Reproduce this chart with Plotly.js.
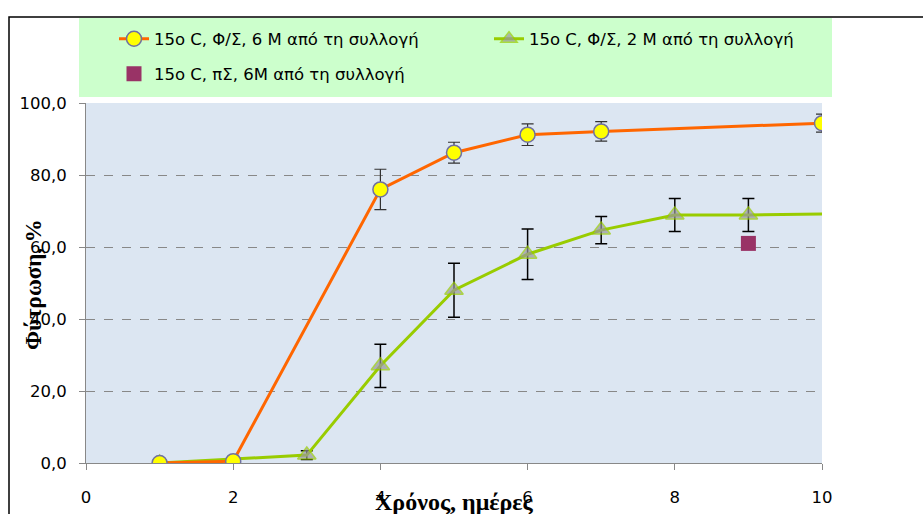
<!DOCTYPE html>
<html>
<head>
<meta charset="utf-8">
<script src="https://cdn.plot.ly/plotly-3.0.1.min.js"></script>
<style>html,body{margin:0;padding:0;background:#fff;}#chart{width:923px;height:514px;}</style>
</head>
<body>
<div id="chart"></div>
<script>
// Data
var seriesNames = ["15ο C, Φ/Σ, 6 Μ από τη συλλογή", "15ο C, Φ/Σ, 2 Μ από τη συλλογή", "15ο C, πΣ, 6Μ από τη συλλογή"];
var daysA = [1, 2, 4, 5, 6, 7, 10];
var germA = [0, 0.5, 76.0, 86.2, 91.2, 92.1, 94.4];
var errA  = [0, 0, 5.6, 2.9, 3.0, 2.7, 2.5];
var daysB = [1, 3, 4, 5, 6, 7, 8, 9, 10];
var germB = [0, 2.2, 27.0, 48.0, 58.0, 64.7, 68.9, 68.9, 69.2];
var errB  = [0, 1.2, 6.0, 7.5, 7.0, 3.8, 4.6, 4.6, 0];
var markB = [16, 16, 16, 16, 16, 16, 16, 16, 0];
var daysC = [9];
var germC = [61.0];
var xTicks = [0, 2, 4, 6, 8, 10];
var yTicks = [0, 20, 40, 60, 80, 100];
var yTickText = ["0,0", "20,0", "40,0", "60,0", "80,0", "100,0"];
var xTitle = "Χρόνος, ημέρες";
var yTitle = "Φύτρωση, %";

var tickFont = {family: "DejaVu Sans, sans-serif", size: 16.5, color: "#000"};
var legFont = {family: "DejaVu Sans, sans-serif", size: 16.5, color: "#000"};

function px2x(p) { return (p - 86) / 736; }
function px2y(p) { return (463 - p) / 360; }

function legendAt(xpx, ypx) {
  return {orientation: "h", x: px2x(xpx), xanchor: "left", y: px2y(ypx), yanchor: "middle",
          bgcolor: "rgba(0,0,0,0)", borderwidth: 0, font: legFont};
}

var traces = [
  {
    x: daysB, y: germB, name: seriesNames[1], type: "scatter", mode: "lines+markers",
    legend: "legend2",
    line: {color: "#99cc00", width: 3},
    marker: {symbol: "triangle-up", size: markB, color: "#999999", line: {color: "#99cc00", width: 1.5}},
    error_y: {type: "data", array: errB, visible: true, color: "#000", thickness: 1.5, width: 6}
  },
  {
    x: daysA, y: germA, name: seriesNames[0], type: "scatter", mode: "lines+markers",
    legend: "legend",
    line: {color: "#ff6600", width: 3},
    marker: {symbol: "circle", size: 15, color: "#ffff00", line: {color: "#7070a0", width: 1.5}},
    error_y: {type: "data", array: errA, visible: true, color: "#333", thickness: 1.2, width: 6}
  },
  {
    x: daysC, y: germC, name: seriesNames[2], type: "scatter", mode: "markers",
    legend: "legend3",
    marker: {symbol: "square", size: 15, color: "#993366"}
  }
];

var layout = {
  width: 923, height: 514,
  margin: {l: 86, r: 101, t: 103, b: 51},
  paper_bgcolor: "#ffffff",
  plot_bgcolor: "#dce6f2",
  showlegend: true,
  legend: legendAt(114, 39),
  legend2: legendAt(489, 39),
  legend3: legendAt(114, 74),
  xaxis: {
    range: [0, 10], tickvals: xTicks, ticktext: xTicks.map(String),
    showgrid: false, zeroline: false, showline: true, linecolor: "#888", linewidth: 1,
    ticks: "outside", ticklen: 6, tickcolor: "#888", tickfont: tickFont, ticklabelstandoff: 13
  },
  yaxis: {
    range: [0, 100], tickvals: yTicks, ticktext: yTickText,
    showgrid: true, gridcolor: "#888", griddash: "dash", gridwidth: 1,
    zeroline: false, showline: true, linecolor: "#888", linewidth: 1,
    ticks: "outside", ticklen: 6, tickcolor: "#888", tickfont: tickFont, ticklabelstandoff: 9
  },
  annotations: [
    {text: "<b>" + xTitle + "</b>", xref: "paper", yref: "paper", x: px2x(454), y: px2y(502),
     showarrow: false, xanchor: "center", yanchor: "middle",
     font: {family: "Liberation Serif, serif", size: 24, color: "#000"}},
    {text: "<b>" + yTitle + "</b>", xref: "paper", yref: "paper", x: px2x(33), y: px2y(285),
     showarrow: false, xanchor: "center", yanchor: "middle", textangle: -90,
     font: {family: "Liberation Serif, serif", size: 23, color: "#000"}}
  ],
  shapes: [
    {type: "rect", xref: "paper", yref: "paper", x0: px2x(79), x1: px2x(832),
     y0: px2y(97), y1: px2y(18), line: {width: 0}, fillcolor: "#ccffcc", layer: "below"},
    {type: "rect", xref: "paper", yref: "paper", x0: px2x(9), x1: px2x(940),
     y0: px2y(530), y1: px2y(17), line: {color: "#000", width: 1.5}, fillcolor: "rgba(0,0,0,0)", layer: "below"}
  ]
};

Plotly.newPlot("chart", traces, layout, {displayModeBar: false, staticPlot: true});
</script>
</body>
</html>
